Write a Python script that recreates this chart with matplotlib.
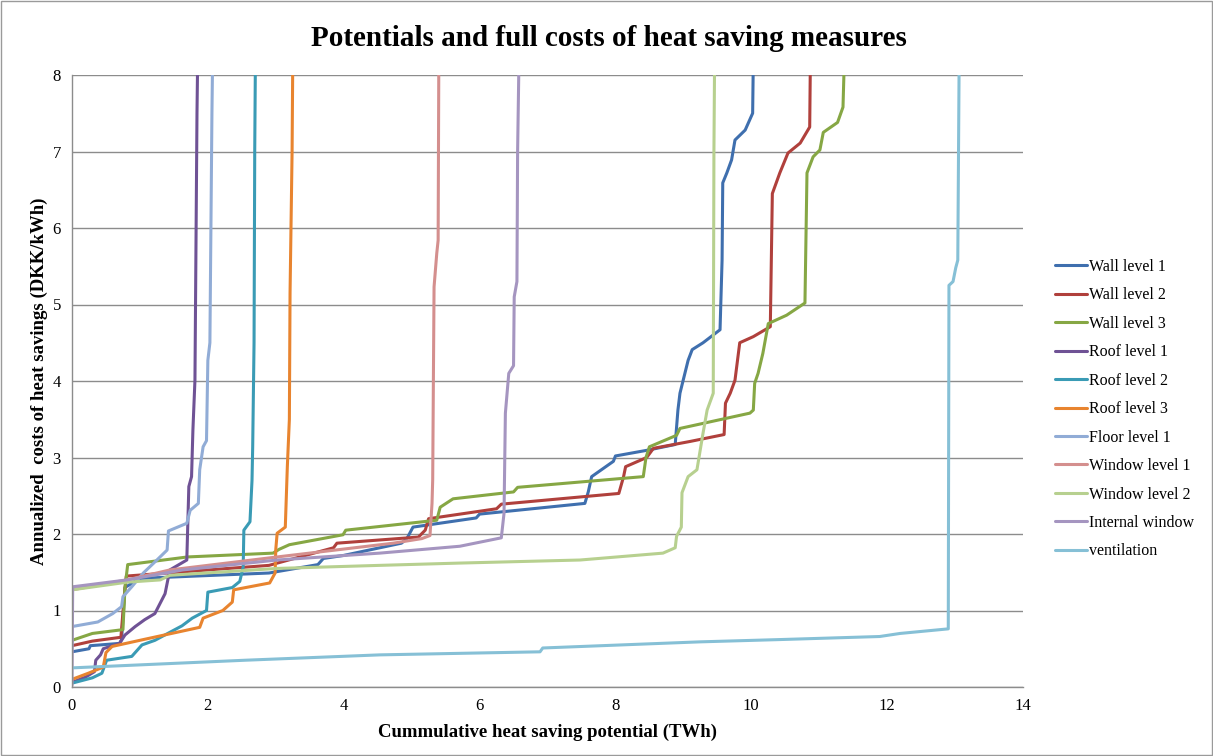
import matplotlib
matplotlib.use("Agg")
import matplotlib.pyplot as plt
from matplotlib.patches import Rectangle

plt.rcParams['font.family'] = ['Liberation Serif', 'DejaVu Serif']

title = "Potentials and full costs of heat saving measures"
xlabel = "Cummulative heat saving potential (TWh)"
ylabel = "Annualized  costs of heat savings (DKK/kWh)"

series_names = ["Wall level 1", "Wall level 2", "Wall level 3", "Roof level 1", "Roof level 2",
                "Roof level 3", "Floor level 1", "Window level 1", "Window level 2",
                "Internal window", "ventilation"]
series_colors = ["#3F6FAE", "#B0403C", "#86A744", "#6F5295", "#3A9BB5", "#E8842F",
                 "#91ACD6", "#D48F8E", "#B7D08F", "#A595C0", "#86C0D6"]

wall1_x = [0, 0.25, 0.27, 0.7, 0.73, 0.78, 1.0, 2.9, 3.62, 3.7, 4.0, 4.85, 4.93, 5.02, 5.95, 6.0,
           7.55, 7.6, 7.65, 7.97, 8.0, 8.5, 8.88, 8.92, 8.95, 9.07, 9.13, 9.29, 9.54, 9.57, 9.58,
           9.64, 9.71, 9.76, 9.91, 10.02, 10.03]
wall1_y = [0.46, 0.5, 0.54, 0.57, 0.62, 1.3, 1.42, 1.49, 1.6, 1.68, 1.72, 1.88, 1.94, 2.09, 2.21, 2.26,
           2.40, 2.55, 2.75, 2.95, 3.02, 3.1, 3.17, 3.62, 3.84, 4.27, 4.41, 4.5, 4.67, 5.58, 6.59,
           6.72, 6.89, 7.15, 7.28, 7.5, 8.2]

wall2_x = [0, 0.3, 0.72, 0.77, 0.8, 2.9, 3.85, 3.9, 5.1, 5.2, 5.25, 6.25, 6.32, 8.05, 8.12, 8.15,
           8.46, 8.56, 9.1, 9.6, 9.62, 9.69, 9.76, 9.83, 10.03, 10.28, 10.31, 10.42, 10.54, 10.72,
           10.86, 10.87]
wall2_y = [0.54, 0.6, 0.65, 1.2, 1.45, 1.59, 1.82, 1.88, 1.96, 2.05, 2.2, 2.33, 2.39, 2.53, 2.75, 2.88,
           3.0, 3.12, 3.21, 3.3, 3.71, 3.84, 4.01, 4.5, 4.58, 4.71, 6.45, 6.72, 6.98, 7.11,
           7.32, 8.2]

wall3_x = [0, 0.3, 0.75, 0.78, 0.82, 1.7, 2.96, 3.05, 3.2, 3.99, 4.03, 5.37, 5.42, 5.61, 6.5, 6.56,
           8.41, 8.45, 8.5, 8.9, 8.95, 9.98, 10.03, 10.05, 10.1, 10.17, 10.25, 10.52, 10.79, 10.82,
           10.91, 11.01, 11.06, 11.27, 11.35, 11.37]
wall3_y = [0.61, 0.7, 0.75, 1.3, 1.6, 1.70, 1.75, 1.8, 1.86, 1.99, 2.05, 2.18, 2.35, 2.46, 2.55, 2.61,
           2.75, 3.0, 3.14, 3.29, 3.38, 3.58, 3.62, 3.97, 4.1, 4.36, 4.75, 4.86, 5.02, 6.72,
           6.93, 7.02, 7.25, 7.38, 7.58, 8.2]

roof1_x = [0, 0.2, 0.33, 0.35, 0.42, 0.46, 0.7, 0.78, 0.93, 1.07, 1.22, 1.37, 1.44, 1.69, 1.72,
           1.76, 1.78, 1.81, 1.84, 1.85]
roof1_y = [0.06, 0.13, 0.2, 0.35, 0.42, 0.5, 0.57, 0.68, 0.79, 0.88, 0.96, 1.22, 1.53, 1.66, 2.62,
           2.75, 3.36, 4.01, 7.5, 8.2]

roof2_x = [0, 0.3, 0.44, 0.51, 0.88, 1.03, 1.22, 1.62, 1.77, 1.98, 2.0, 2.36, 2.47, 2.52, 2.53,
           2.62, 2.65, 2.66, 2.68, 2.69, 2.70]
roof2_y = [0.05, 0.12, 0.18, 0.35, 0.4, 0.55, 0.61, 0.8, 0.9, 1.0, 1.24, 1.3, 1.38, 1.57, 2.05,
           2.16, 2.7, 3.14, 4.5, 7.0, 8.2]

roof3_x = [0, 0.24, 0.46, 0.5, 0.59, 1.05, 1.88, 1.93, 2.22, 2.36, 2.38, 2.91, 2.99, 3.0, 3.02,
           3.14, 3.17, 3.2, 3.21, 3.24, 3.25]
roof3_y = [0.1, 0.18, 0.26, 0.45, 0.53, 0.62, 0.78, 0.9, 1.0, 1.11, 1.27, 1.36, 1.49, 1.8, 2.01,
           2.09, 2.88, 3.5, 5.15, 7.0, 8.2]

floor1_x = [0, 0.38, 0.6, 0.73, 0.75, 0.88, 1.05, 1.25, 1.40, 1.42, 1.69, 1.74, 1.86, 1.88, 1.93,
            1.98, 2.0, 2.03, 2.06, 2.07]
floor1_y = [0.79, 0.85, 0.96, 1.05, 1.18, 1.31, 1.49, 1.66, 1.79, 2.04, 2.14, 2.31, 2.4, 2.84, 3.14,
            3.22, 4.27, 4.5, 7.5, 8.2]

window1_x = [0, 0.81, 1.44, 3.02, 4.73, 5.15, 5.27, 5.3, 5.31, 5.32, 5.33, 5.37, 5.39, 5.40]
window1_y = [1.27, 1.40, 1.53, 1.70, 1.88, 1.94, 1.98, 2.4, 2.71, 4.0, 5.23, 5.67, 5.84, 8.2]

window2_x = [0, 0.81, 1.3, 1.44, 3.02, 4.53, 5.71, 7.48, 8.7, 8.88, 8.9, 8.97, 8.98, 9.07, 9.2,
             9.29, 9.35, 9.44, 9.45, 9.46]
window2_y = [1.27, 1.37, 1.40, 1.46, 1.55, 1.59, 1.62, 1.66, 1.75, 1.82, 1.97, 2.09, 2.54, 2.75, 2.84,
             3.32, 3.62, 3.84, 7.0, 8.2]

internal_x = [0, 0.01, 0.81, 1.63, 3.02, 4.53, 5.71, 6.32, 6.36, 6.38, 6.43, 6.5, 6.51, 6.55, 6.56, 6.58]
internal_y = [0.02, 1.31, 1.40, 1.53, 1.66, 1.75, 1.84, 1.95, 2.27, 3.58, 4.1, 4.2, 5.1, 5.3, 7.0, 8.2]

vent_x = [0, 2.55, 4.53, 6.89, 6.93, 9.24, 10.42, 11.89, 12.19, 12.9, 12.91, 12.97, 13.01, 13.04, 13.06]
vent_y = [0.25, 0.35, 0.42, 0.46, 0.51, 0.59, 0.62, 0.66, 0.70, 0.76, 5.25, 5.3, 5.48, 5.58, 8.2]

series_x = [wall1_x, wall2_x, wall3_x, roof1_x, roof2_x, roof3_x, floor1_x, window1_x, window2_x,
            internal_x, vent_x]
series_y = [wall1_y, wall2_y, wall3_y, roof1_y, roof2_y, roof3_y, floor1_y, window1_y, window2_y,
            internal_y, vent_y]

x_ticks = [0, 2, 4, 6, 8, 10, 12, 14]
y_ticks = [0, 1, 2, 3, 4, 5, 6, 7, 8]

fig = plt.figure(figsize=(12.13, 7.56), dpi=100)
fig.patches.append(Rectangle((0.001, 0.001), 0.998, 0.998, transform=fig.transFigure,
                             fill=False, edgecolor="#9a9a9a", linewidth=1.0))
ax = fig.add_axes([72 / 1213, 1 - 687 / 756, (1023 - 72) / 1213, (687 - 75) / 756])

for name, col, xs, ys in zip(series_names, series_colors, series_x, series_y):
    ax.plot(xs, ys, color=col, linewidth=2.2, label=name, solid_joinstyle="round",
            solid_capstyle="round")

ax.set_xlim(0, 14)
ax.set_ylim(0, 8)
ax.set_xticks(x_ticks)
ax.set_yticks(y_ticks)
ax.tick_params(length=0, labelsize=12, pad=8)
ax.grid(axis="y", color="#8c8c8c", linewidth=1.0)
ax.set_axisbelow(True)
for s in ["top", "right"]:
    ax.spines[s].set_visible(False)
for s in ["left", "bottom"]:
    ax.spines[s].set_color("#8c8c8c")
    ax.spines[s].set_linewidth(1.0)

ax.set_xlabel(xlabel, fontsize=13.5, fontweight="bold", labelpad=7)
ax.set_ylabel(ylabel, fontsize=13.5, fontweight="bold", labelpad=3)
fig.text(609 / 1213, 1 - 38 / 756, title, fontsize=21, fontweight="bold",
         ha="center", va="center")

leg = ax.legend(loc="center left", bbox_to_anchor=(1.027, 0.454), frameon=False, fontsize=11.5,
                handlelength=2.0, handletextpad=0.1, labelspacing=0.78, borderaxespad=0)

fig.savefig("out.png", dpi=100)
